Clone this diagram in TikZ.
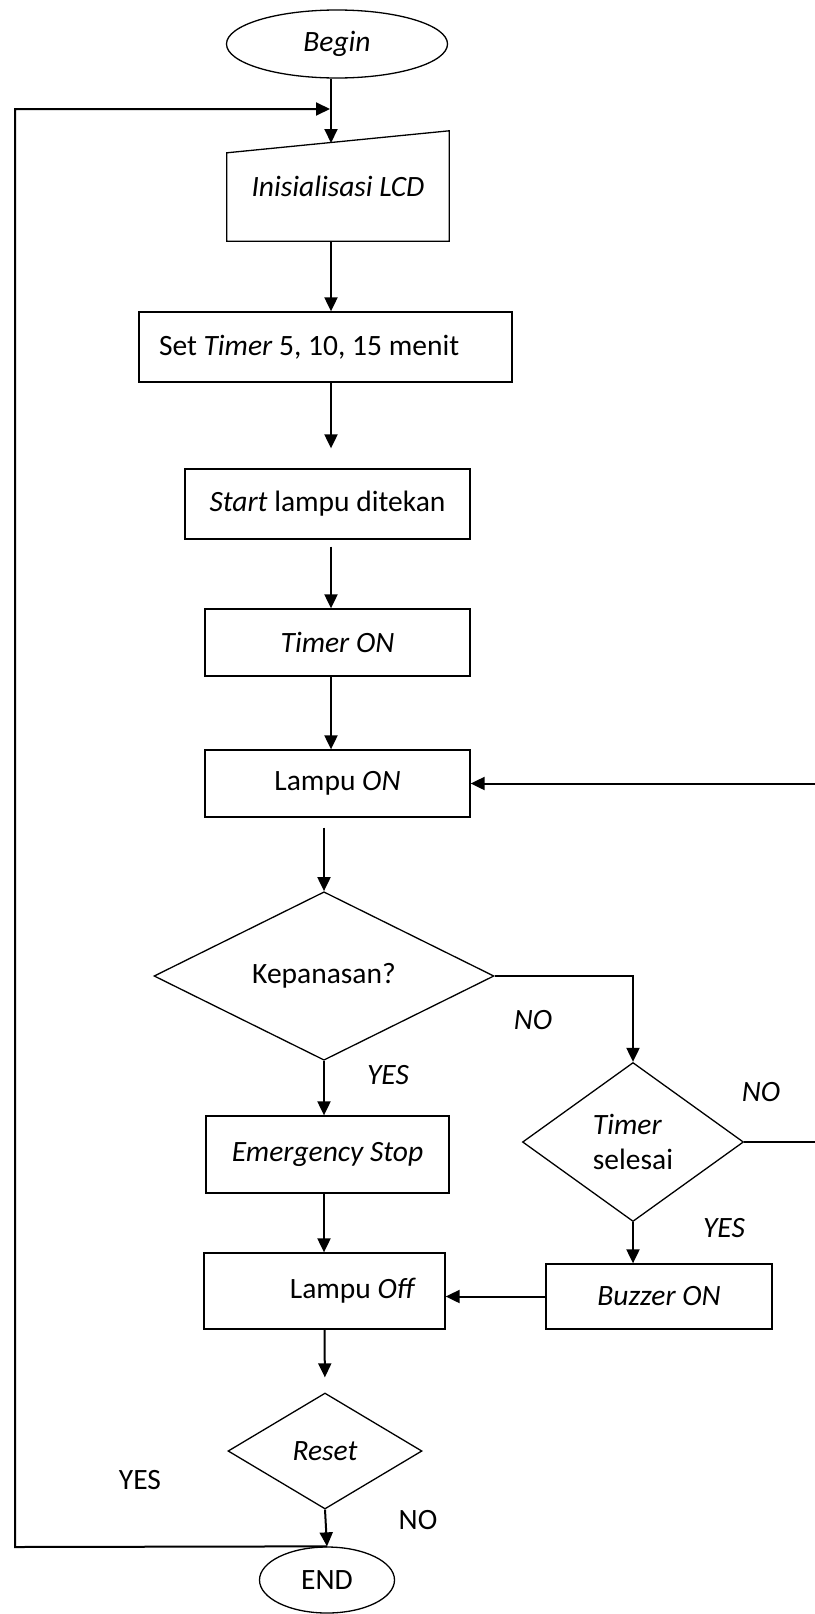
\documentclass[tikz,border=0pt]{standalone}
\usepackage{fontspec}
\setmainfont{Carlito}
\usetikzlibrary{shapes.geometric,arrows.meta}
\begin{document}
\begin{tikzpicture}[x=1pt,y=-1pt,
  font=\fontsize{29.5}{35}\selectfont,
  box/.style={draw, rectangle, line width=1.3pt, inner sep=0pt},
  cond/.style={draw, diamond, line width=1.3pt, inner sep=0pt, align=center},
  term/.style={draw, ellipse, line width=1.3pt, inner sep=0pt},
  arr/.style={-{Triangle[length=14pt,width=13pt]}, line width=2pt},
  lbl/.style={inner sep=0pt}]
\useasboundingbox (0,0) rectangle (814,1614);
\node[term, minimum width=221pt, minimum height=68pt] (beg) at (337,44) {\textit{Begin}};
\node[inner sep=0pt, minimum width=222pt, minimum height=110pt] (lcd) at (338,186) {\textit{Inisialisasi LCD}};
\draw[line width=1.3pt] (lcd.south west) -- (lcd.south east) -- (lcd.north east) -- ([yshift=-22pt]lcd.north west) -- cycle;
\node[box, minimum width=373pt, minimum height=70pt, text width=333pt, align=flush left] (settimer) at (325.5,347) {Set \textit{Timer} 5, 10, 15 menit};
\node[box, minimum width=285pt, minimum height=70pt] (startbtn) at (327.5,504) {\textit{Start} lampu ditekan};
\node[box, minimum width=265pt, minimum height=67pt] (timeron) at (337.5,642.5) {\textit{Timer ON}};
\node[box, minimum width=265pt, minimum height=67pt] (lampuon) at (337.5,783.5) {Lampu \textit{ON}};
\node[cond, minimum width=340pt, minimum height=134pt] (hot) at (324,976) {Kepanasan?};
\node[box, minimum width=243pt, minimum height=77pt] (estop) at (327.5,1154.5) {\textit{Emergency Stop}};
\node[box, minimum width=241pt, minimum height=76pt, text width=183pt, align=flush right] (lampuoff) at (324.5,1291) {Lampu \textit{Off}};
\node[cond, minimum width=221pt, minimum height=159pt, align=left] (done) at (633,1142) {\textit{Timer}\\selesai};
\node[box, minimum width=226pt, minimum height=65pt] (buzzer) at (659,1296.5) {\textit{Buzzer ON}};
\node[cond, minimum width=194pt, minimum height=116pt] (reset) at (325,1451) {\textit{Reset}};
\node[term, minimum width=135pt, minimum height=66pt] (fin) at (327,1580) {END};
\node[lbl] (hotno) at (533,1020) {\textit{NO}};
\node[lbl] (hotyes) at (388,1075) {\textit{YES}};
\node[lbl] (doneno) at (761,1092) {\textit{NO}};
\node[lbl] (doneyes) at (724,1228) {\textit{YES}};
\node[lbl] (resetyes) at (140,1480) {YES};
\node[lbl] (resetno) at (418,1520) {NO};
\coordinate (lcdin) at (331,143);
\coordinate (backin) at (330,109);
\coordinate (yesturn) at (15,1547);
\coordinate (rightturn) at (817,1138);
\draw[arr] (beg.south -| lcdin) -- (lcdin);
\draw[arr] (lcd.south -| lcdin) -- (settimer.north -| lcdin);
\draw[arr, shorten >=20pt] (settimer.south -| lcdin) -- (startbtn.north -| lcdin);
\draw[arr, shorten <=7pt] (startbtn.south -| lcdin) -- (timeron.north -| lcdin);
\draw[arr] (timeron.south -| lcdin) -- (lampuon.north -| lcdin);
\draw[arr, shorten <=10pt] (lampuon.south -| hot.north) -- (hot.north);
\draw[arr] (hot.south) -- (estop.north -| hot.south);
\draw[arr] (estop.south -| hot.south) -- (lampuoff.north -| hot.south);
\draw[arr] (hot.east) -| (done.north);
\draw[arr] (done.south) -- (done.south |- buzzer.north);
\draw[arr] (buzzer.west) -- (buzzer.west -| lampuoff.east);
\draw[arr] (done.east) -- (done.east -| rightturn) |- (lampuon.east);
\draw[arr, shorten >=15pt] (lampuoff.south) -- (reset.north);
\draw[arr] (reset.south) -- (fin.north);
\draw[arr] (fin.north) -- (yesturn) |- (backin);
\end{tikzpicture}
\end{document}
